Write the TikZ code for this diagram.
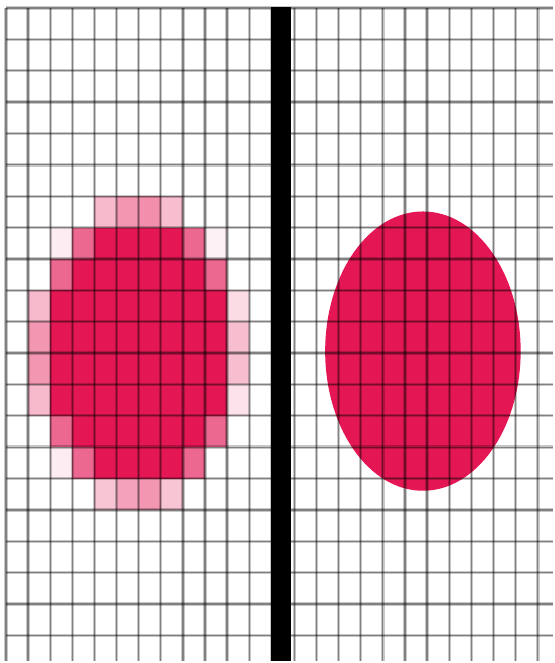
\documentclass[tikz,border=0pt]{standalone}
\usetikzlibrary{calc}
\definecolor{rose}{RGB}{228,22,84}

\begin{document}
\begin{tikzpicture}[x=1pt,y=-1pt]
\tikzstyle{gl}=[draw=black,draw opacity=0.22,line width=3.4pt,postaction={draw=black,draw opacity=0.35,line width=1.3pt}]
\fill[white] (0,0) rectangle (554,663);
% left: pixel ellipse, cell (c,r) starts at (6+22.17c, 8+31.45r)
\foreach \r/\a/\b in {7/4/7,8/3/8,9/2/9,10/2/9,11/2/9,12/2/9,13/3/8,14/4/7}
  \fill[rose] (6+22.17*\a,8+31.45*\r) rectangle (6+22.17*\b+22.17,8+31.45*\r+31.45);
\foreach \r/\c/\v in {6/4/30,6/5/45,6/6/48,6/7/28,7/2/8,7/3/65,7/8/65,7/9/6,8/2/65,8/9/65,9/1/30,9/10/15,10/1/45,10/10/28,11/1/45,11/10/28,12/1/30,12/10/12,13/2/65,13/9/65,14/2/8,14/3/65,14/8/65,15/4/25,15/5/40,15/6/45,15/7/25}
  \fill[rose!\v] (6+22.17*\c,8+31.45*\r) rectangle ++(22.17,31.45);
% right: smooth ellipse
\fill[rose] (424,352) ellipse [x radius=98pt,y radius=140pt];
% grid paper
\foreach \i in {0,...,12} \draw[gl] (6+22.17*\i,8) -- (6+22.17*\i,663);
\foreach \i in {0,...,11} \draw[gl] (295+22.2*\i,8) -- (295+22.2*\i,663);
\foreach \j in {0,...,20} \draw[gl] (6,8+31.45*\j) -- (554,8+31.45*\j);
% divider
\fill[black] (272,7) rectangle (292,663);
\end{tikzpicture}
\end{document}
